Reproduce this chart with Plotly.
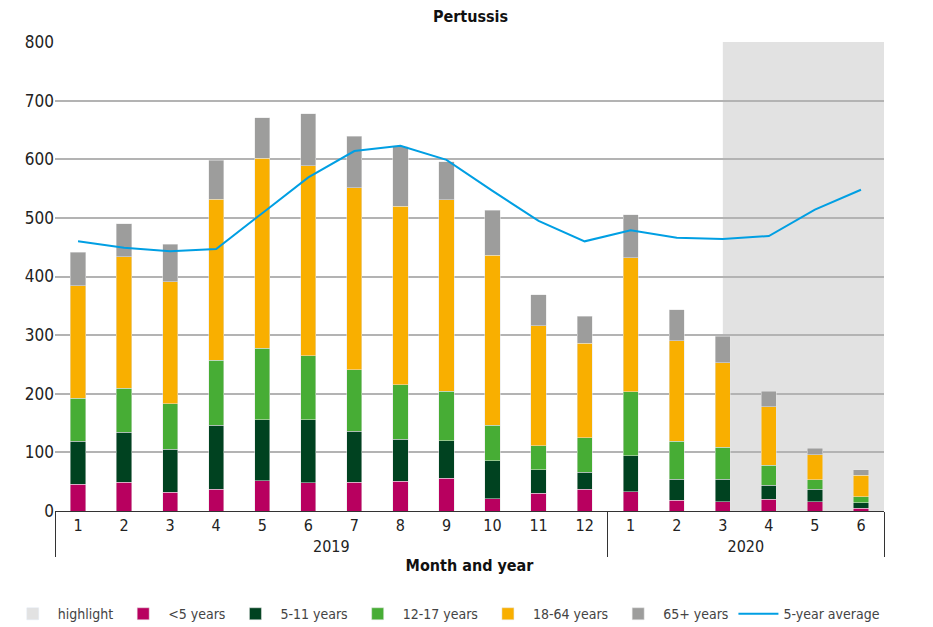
import plotly.graph_objects as go

# Pertussis notifications by age group, per month (2019-01 .. 2020-06)
YEARS = ["2019"] * 12 + ["2020"] * 6
MONTHS = [str(m) for m in range(1, 13)] + [str(m) for m in range(1, 7)]

UNDER5 = [46, 49, 32, 37, 52, 48, 49, 51, 56, 21, 30, 37, 33, 18, 16, 20, 16, 5]
AGE_5_11 = [73, 85, 73, 109, 104, 108, 87, 71, 64, 65, 40, 29, 61, 36, 38, 24, 21, 9]
AGE_12_17 = [73, 75, 78, 111, 122, 109, 105, 93, 84, 60, 41, 59, 109, 65, 55, 34, 16, 10]
AGE_18_64 = [192, 225, 208, 275, 324, 324, 310, 305, 327, 290, 205, 161, 229, 171, 144, 100, 43, 37]
AGE_65P = [57, 56, 64, 66, 69, 89, 88, 101, 65, 77, 53, 46, 73, 53, 45, 26, 11, 9]
AVG5 = [460, 449, 443, 447, 508, 569, 614, 623, 599, 546, 495, 460, 479, 466, 464, 469, 514, 548]

SERIES = [
    ("<5 years", UNDER5, "#b8005f"),
    ("5-11 years", AGE_5_11, "#004220"),
    ("12-17 years", AGE_12_17, "#47ad35"),
    ("18-64 years", AGE_18_64, "#f9af00"),
    ("65+ years", AGE_65P, "#9d9d9c"),
]

FONT = "Liberation Sans Narrow, DejaVu Sans Condensed, Open Sans, sans-serif"
x = [YEARS, MONTHS]

fig = go.Figure()
# legend-only entry for the grey highlight band
fig.add_trace(go.Bar(x=x, y=[None] * len(MONTHS), name="highlight",
                     marker_color="#e2e2e2", hoverinfo="skip"))
for name, vals, col in SERIES:
    fig.add_trace(go.Bar(x=x, y=vals, name=name, marker_color=col,
                         marker_line=dict(color="#e6e6e6", width=0.5)))
fig.add_trace(go.Scatter(x=x, y=AVG5, name="5-year average", mode="lines",
                         line=dict(color="#009fe3", width=2)))

fig.add_shape(type="rect", xref="x domain", yref="y", x0=14.5 / 18, x1=1,
              y0=0, y1=800, fillcolor="#e2e2e2", line_width=0, layer="below")

# page body has an 8px margin, so the figure is a bit smaller than the window
fig.update_layout(
    width=925, height=619,
    barmode="stack", bargap=0.67,
    plot_bgcolor="white", paper_bgcolor="white",
    font=dict(family=FONT, size=16, color="#222"),
    title=dict(text="<b>Pertussis</b>", x=0.5, xanchor="center", y=0.987, yanchor="middle",
               font=dict(size=16, color="#111")),
    margin=dict(l=47, r=49, t=34, b=116, autoexpand=False),
    legend=dict(orientation="h", x=-0.057, xanchor="left", y=-0.22, yanchor="middle",
                font=dict(size=14, color="#444"), traceorder="normal", itemwidth=40),
)
fig.update_xaxes(
    type="multicategory", showline=True, linecolor="#333", linewidth=1,
    showdividers=True, dividercolor="#333", dividerwidth=1, automargin=False,
    showgrid=False, ticks="", tickfont=dict(size=16, color="#222"),
    title=dict(text="<b>Month and year</b>", font=dict(size=16, color="#111"), standoff=4),
)
fig.update_yaxes(
    range=[0, 800], dtick=100, showgrid=True, gridcolor="#b3b3b3", gridwidth=1.5,
    zeroline=False, showline=False, ticks="", automargin=False,
    tickfont=dict(size=17, color="#222"),
)

fig.write_html("out.html")
